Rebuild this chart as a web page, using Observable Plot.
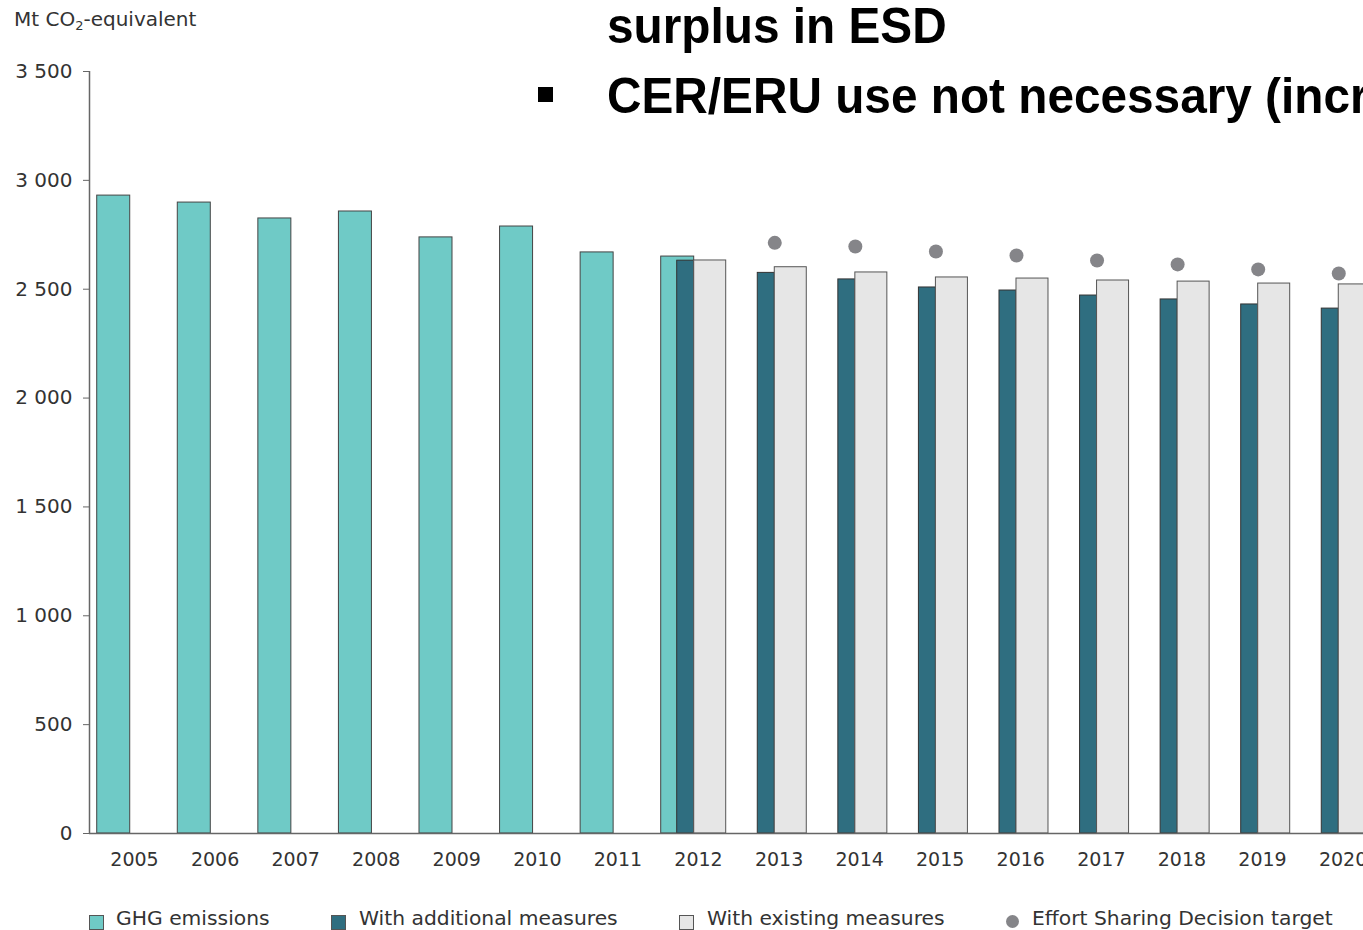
<!DOCTYPE html>
<html>
<head>
<meta charset="utf-8">
<script src="https://cdn.jsdelivr.net/npm/d3@7"></script>
<script src="https://cdn.jsdelivr.net/npm/@observablehq/plot@0.6"></script>
<style>
  html, body { margin: 0; padding: 0; background: #fff; }
  #wrap { position: relative; width: 1363px; height: 930px; overflow: hidden; font-family: "DejaVu Sans", Verdana, sans-serif; color: #333; }
  #chart { position: absolute; left: 0; top: 0; }
  .ylab { position: absolute; left: 14px; top: 7px; font-size: 20px; white-space: nowrap; }
  .ylab sub { font-size: 13px; vertical-align: -4px; line-height: 0; }
  .slide { position: absolute; font-family: "Liberation Sans", Arial, sans-serif; font-weight: bold; font-size: 50px; color: #000; white-space: nowrap; line-height: 1; transform: scaleX(0.955); transform-origin: 0 0; }
  .bullet { position: absolute; left: 538px; top: 87px; width: 15px; height: 15px; background: #000; }
  .leg { position: absolute; font-size: 20.3px; white-space: nowrap; top: 906px; line-height: 24px; }
  .sw { position: absolute; width: 15px; height: 15px; top: 915px; box-sizing: border-box; border: 1px solid #555; }
  .dot { position: absolute; width: 13px; height: 13px; border-radius: 50%; background: #858589; top: 915px; }
</style>
</head>
<body>
<div id="wrap">
  <div id="chart"></div>
  <div class="ylab">Mt CO<sub>2</sub>-equivalent</div>
  <div class="slide" style="left:607px; top:1px;">surplus in ESD</div>
  <div class="bullet"></div>
  <div class="slide" style="left:607px; top:71px;">CER/ERU use not necessary (increase</div>
  <div id="legend"></div>
</div>
<script>
const years = [2005, 2006, 2007, 2008, 2009, 2010, 2011, 2012, 2013, 2014, 2015, 2016, 2017, 2018, 2019, 2020];
const ghgYears = [2005, 2006, 2007, 2008, 2009, 2010, 2011, 2012];
const ghgEmissions = [2930, 2898, 2825, 2857, 2738, 2788, 2669, 2650];
const projYears = [2012, 2013, 2014, 2015, 2016, 2017, 2018, 2019, 2020];
const withAdditional = [2631, 2575, 2545, 2508, 2494, 2471, 2453, 2430, 2411];
const withExisting = [2632, 2601, 2577, 2554, 2549, 2540, 2535, 2526, 2522];
const targetYears = [2013, 2014, 2015, 2016, 2017, 2018, 2019, 2020];
const esdTarget = [2713, 2696, 2673, 2655, 2632, 2614, 2591, 2572];
const yTicks = [0, 500, 1000, 1500, 2000, 2500, 3000, 3500];
const legendLabels = ["GHG emissions", "With additional measures", "With existing measures", "Effort Sharing Decision target"];
const colors = {ghg: "#6fcac6", wam: "#2f6e80", wem: "#e6e6e6", dot: "#858589"};

const ghg = ghgYears.map((y, i) => ({year: y, value: ghgEmissions[i]}));
const wam = projYears.map((y, i) => ({year: y, value: withAdditional[i]}));
const wem = projYears.map((y, i) => ({year: y, value: withExisting[i]}));
const tgt = targetYears.map((y, i) => ({year: y, value: esdTarget[i]}));

// bar offsets within a one-year slot (slot centred on the year)
const slot = 80.57;
const off = px => px / slot - 0.5;

const fmt = d => d >= 1000 ? d3.format(",")(d).replace(",", " ") : String(d);
const x0 = 2005 - 45 / slot, x1 = 2005 + 1229 / slot;

const plot = Plot.plot({
  width: 1363,
  height: 890,
  marginLeft: 89,
  marginRight: 0,
  marginTop: 71,
  marginBottom: 57,
  style: {fontFamily: "'DejaVu Sans', Verdana, sans-serif", fontSize: "19px", color: "#333", background: "transparent"},
  x: {type: "linear", domain: [x0, x1], range: [89, 1363]},
  y: {domain: [0, 3500]},
  marks: [
    Plot.axisY({ticks: yTicks, tickFormat: fmt, tickSize: 6, tickPadding: 11, label: null, stroke: "#666", fontSize: 20}),
    Plot.axisX({ticks: years, tickFormat: d => String(d), tickSize: 0, tickPadding: 19, label: null, fontSize: 19}),
    Plot.rectY(ghg, {x1: d => d.year + off(3), x2: d => d.year + off(36), y1: 0, y2: "value", fill: colors.ghg, stroke: "#444", strokeWidth: 1}),
    Plot.rectY(wam, {x1: d => d.year + off(19), x2: d => d.year + off(36), y1: 0, y2: "value", fill: colors.wam, stroke: "#333", strokeWidth: 1}),
    Plot.rectY(wem, {x1: d => d.year + off(36), x2: d => d.year + off(68), y1: 0, y2: "value", fill: colors.wem, stroke: "#555", strokeWidth: 1}),
    Plot.dot(tgt, {x: d => d.year + off(36), y: "value", r: 7, fill: colors.dot, stroke: "none"}),
    Plot.ruleX([x0], {y1: 0, y2: 3500, stroke: "#666", strokeWidth: 1.5}),
    Plot.ruleY([0], {stroke: "#666", strokeWidth: 1.5})
  ]
});
document.getElementById("chart").appendChild(plot);

// legend
const wrap = document.getElementById("wrap");
const legItems = [
  {label: legendLabels[0], kind: "sw", fill: colors.ghg, sx: 89, tx: 116},
  {label: legendLabels[1], kind: "sw", fill: colors.wam, sx: 331, tx: 359},
  {label: legendLabels[2], kind: "sw", fill: colors.wem, sx: 679, tx: 707},
  {label: legendLabels[3], kind: "dot", fill: colors.dot, sx: 1006, tx: 1032}
];
for (const it of legItems) {
  const s = document.createElement("div");
  s.className = it.kind;
  s.style.left = it.sx + "px";
  s.style.background = it.fill;
  wrap.appendChild(s);
  const t = document.createElement("div");
  t.className = "leg";
  t.style.left = it.tx + "px";
  t.textContent = it.label;
  wrap.appendChild(t);
}
</script>
</body>
</html>
